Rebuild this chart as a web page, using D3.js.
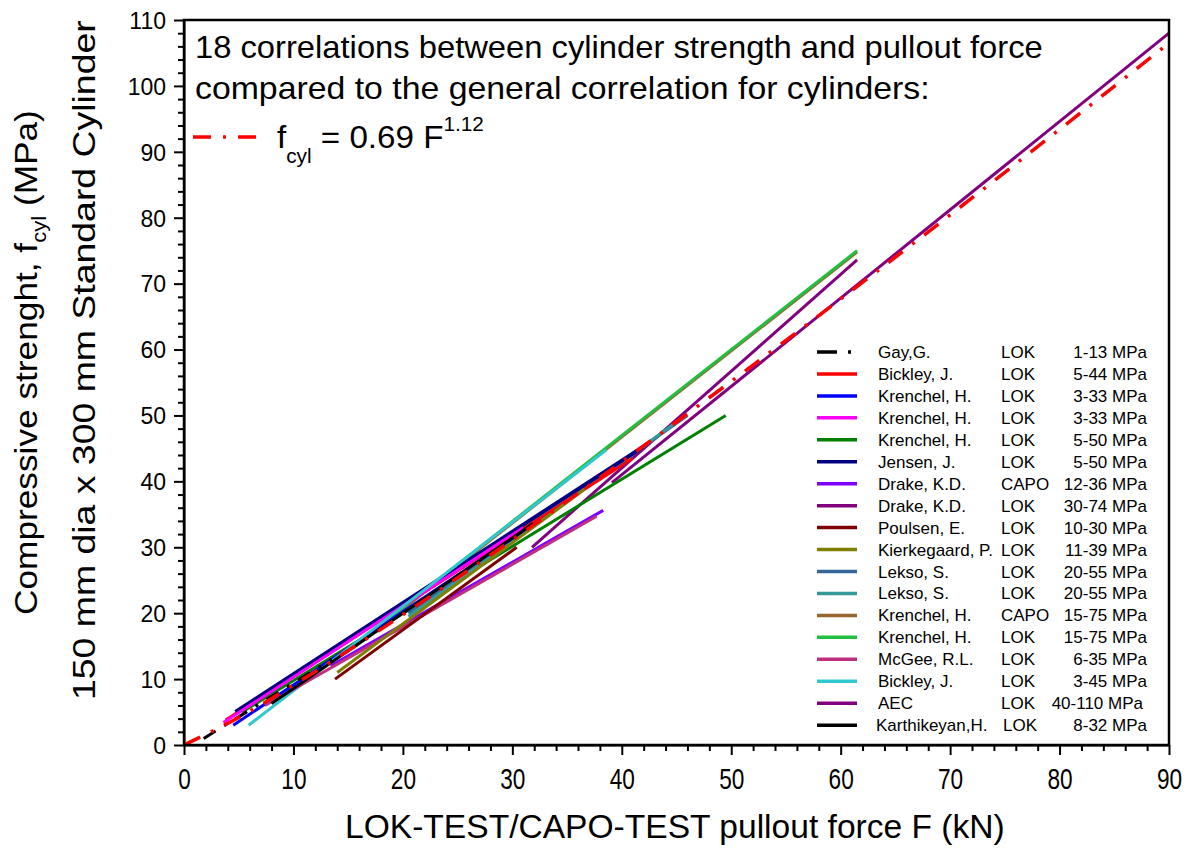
<!DOCTYPE html>
<html><head><meta charset="utf-8">
<script src="https://cdn.jsdelivr.net/npm/d3@7"></script>
<style>
body{margin:0;background:#fff;}
text{font-family:"Liberation Sans",Arial,sans-serif;}
</style></head>
<body><svg id="c" width="1189" height="849"></svg>
<script>
// ---- data ----
const authors = ["Gay,G.","Bickley, J.","Krenchel, H.","Krenchel, H.","Krenchel, H.","Jensen, J.","Drake, K.D.","Drake, K.D.","Poulsen, E.","Kierkegaard, P.","Lekso, S.","Lekso, S.","Krenchel, H.","Krenchel, H.","McGee, R.L.","Bickley, J.","AEC","Karthikeyan,H."];
const methods = ["LOK","LOK","LOK","LOK","LOK","LOK","CAPO","LOK","LOK","LOK","LOK","LOK","CAPO","LOK","LOK","LOK","LOK","LOK"];
const ranges = ["1-13 MPa","5-44 MPa","3-33 MPa","3-33 MPa","5-50 MPa","5-50 MPa","12-36 MPa","30-74 MPa","10-30 MPa","11-39 MPa","20-55 MPa","20-55 MPa","15-75 MPa","15-75 MPa","6-35 MPa","3-45 MPa","40-110 MPa","8-32 MPa"];
// start / end pullout force F (kN) and cylinder strength (MPa) of each correlation
const F0 = [1.8, 3.8, 4.5, 3.6, 5.3, 4.7, 13.4, 31.8, 13.8, 14.0, 20.5, 20.5, 15.7, 15.5, 7.4, 5.9, 39.1, 8.0];
const F1 = [13.5, 41.0, 31.5, 31.0, 49.5, 41.9, 38.3, 61.5, 30.4, 36.6, 46.0, 45.0, 61.5, 61.5, 37.7, 38.6, 90.0, 31.9];
const f0 = [1.0, 3.8, 3.0, 3.4, 5.0, 5.0, 12.0, 30.0, 10.0, 11.0, 20.0, 19.5, 15.0, 15.0, 6.0, 3.0, 39.8, 6.3];
const f1 = [13.0, 43.5, 33.0, 33.0, 50.0, 45.2, 35.6, 73.6, 30.0, 38.8, 50.0, 49.0, 74.8, 75.0, 34.7, 44.8, 108.0, 33.6];
// general correlation f_cyl = 0.69 F^1.12, read at these forces
const genF = [0, 5, 10, 20, 30, 40, 50, 60, 70, 80, 90];
const genf = [0, 4.18, 9.09, 19.77, 31.14, 42.97, 55.17, 67.67, 80.42, 93.4, 106.5];
const xTicks = [0,10,20,30,40,50,60,70,80,90];
const yTicks = [0,10,20,30,40,50,60,70,80,90,100,110];

const colors = ["#000000","#FF0000","#0000FF","#FF00FF","#008000","#000080","#8000FF","#800080","#800000","#808000","#336699","#339999","#996633","#22C040","#C0307F","#30C8D0","#800080","#000000"];
const order = [16,7,12,13,4,10,11,1,5,2,3,15,6,14,9,8,17,0]; // drawing order

const svg = d3.select("#c");
const L=184,R=1169,T=20,B=745;
const x = d3.scaleLinear().domain([0,90]).range([L,R]);
const y = d3.scaleLinear().domain([0,110]).range([B,T]);

// horizontally stretch a text (in its own direction) to a target width
function fit(sel, w){
  const n = sel.node(); const cur = n.getComputedTextLength();
  const base = sel.attr("transform")||"";
  const x0 = +sel.attr("x")||0;
  const s = w/cur;
  sel.attr("transform", `${base} translate(${x0},0) scale(${s},1) translate(${-x0},0)`);
}

const defs = svg.append("defs");
defs.append("clipPath").attr("id","clip").append("rect").attr("x",L).attr("y",T).attr("width",R-L).attr("height",B-T);

// axes
const xAxis = svg.append("g").attr("transform",`translate(0,${B})`)
  .call(d3.axisBottom(x).tickValues(xTicks).tickSize(10).tickSizeOuter(0).tickPadding(13));
svg.append("g").attr("transform",`translate(0,${B})`)
  .call(d3.axisBottom(x).tickValues(d3.range(0,91,2).filter(v=>v%10)).tickSize(6).tickFormat("").tickSizeOuter(0))
  .select(".domain").remove();
const yAxis = svg.append("g").attr("transform",`translate(${L},0)`)
  .call(d3.axisLeft(y).tickValues(yTicks).tickSize(10).tickSizeOuter(0).tickPadding(8));
svg.append("g").attr("transform",`translate(${L},0)`)
  .call(d3.axisLeft(y).tickValues(d3.range(0,111,2).filter(v=>v%10)).tickSize(6).tickFormat("").tickSizeOuter(0))
  .select(".domain").remove();
svg.selectAll(".tick line").attr("stroke","#000").attr("stroke-width",2);
svg.selectAll(".domain").attr("stroke","#000").attr("stroke-width",2);
xAxis.selectAll("text").style("font-size","29px").attr("fill","#000")
  .attr("text-anchor","middle").attr("transform","scale(0.78,1)");
yAxis.selectAll("text").style("font-size","23px").attr("fill","#000").attr("dy","0.36em");

// series
const g = svg.append("g").attr("clip-path","url(#clip)");
order.forEach(i=>{
  g.append("line").attr("x1",x(F0[i])).attr("y1",y(f0[i])).attr("x2",x(F1[i])).attr("y2",y(f1[i]))
   .attr("stroke",colors[i]).attr("stroke-width", i===5?4:3)
   .attr("stroke-dasharray", i===0?"14,10,3,10":null);
});
const line = d3.line().x((d,i)=>x(genF[i])).y((d,i)=>y(genf[i])).curve(d3.curveMonotoneX);
g.append("path").datum(genF).attr("d",line).attr("fill","none").attr("stroke","#FF0000")
 .attr("stroke-width",3.5).attr("stroke-dasharray","18,12,3,12");

// frame
svg.append("rect").attr("x",L).attr("y",T).attr("width",R-L).attr("height",B-T)
  .attr("fill","none").attr("stroke","#000").attr("stroke-width",2.5);

// title text
const tt = svg.append("g");
fit(tt.append("text").attr("x",195).attr("y",58).style("font-size","32px")
  .text("18 correlations between cylinder strength and pullout force"), 848);
fit(tt.append("text").attr("x",195).attr("y",99).style("font-size","32px")
  .text("compared to the general correlation for cylinders:"), 735);
tt.append("line").attr("x1",193).attr("x2",268).attr("y1",137).attr("y2",137)
  .attr("stroke","#FF0000").attr("stroke-width",3.5).attr("stroke-dasharray","18,12,3,12");
const eq = tt.append("text").attr("x",277).attr("y",148).style("font-size","32px");
eq.append("tspan").text("f");
eq.append("tspan").attr("dy",15).style("font-size","20px").text("cyl");
eq.append("tspan").attr("dy",-15).text(" = 0.69 F");
eq.append("tspan").attr("dy",-17).style("font-size","20px").text("1.12");
fit(eq, 207);

// legend
const lg = svg.append("g");
authors.forEach((a,i)=>{
  const yy = 352 + i*21.95;
  lg.append("line").attr("x1",817).attr("x2",857).attr("y1",yy).attr("y2",yy)
    .attr("stroke",colors[i]).attr("stroke-width",3.5)
    .attr("stroke-dasharray", i===0?"20,11,3,20":null);
  lg.append("text").attr("x", i===17?876:878).attr("y",yy+6).style("font-size","17px").text(a);
  lg.append("text").attr("x", i===17?1003:1001).attr("y",yy+6).style("font-size","17px").text(methods[i]);
  lg.append("text").attr("x", i===16?1143:1147).attr("y",yy+6).attr("text-anchor","end").style("font-size","17px").text(ranges[i]);
});

// axis titles
fit(svg.append("text").attr("x",345).attr("y",838)
  .style("font-size","33px").text("LOK-TEST/CAPO-TEST pullout force F (kN)"), 660);
const yl1 = svg.append("text").attr("transform","translate(37,615) rotate(-90)")
  .style("font-size","32px");
yl1.append("tspan").text("Compressive strenght, f");
yl1.append("tspan").attr("dy",9).style("font-size","20px").text("cyl");
yl1.append("tspan").attr("dy",-9).text(" (MPa)");
fit(yl1, 505);
fit(svg.append("text").attr("transform","translate(95,700) rotate(-90)")
  .style("font-size","32px").text("150 mm dia x 300 mm Standard Cylinder"), 680);
</script></body></html>
